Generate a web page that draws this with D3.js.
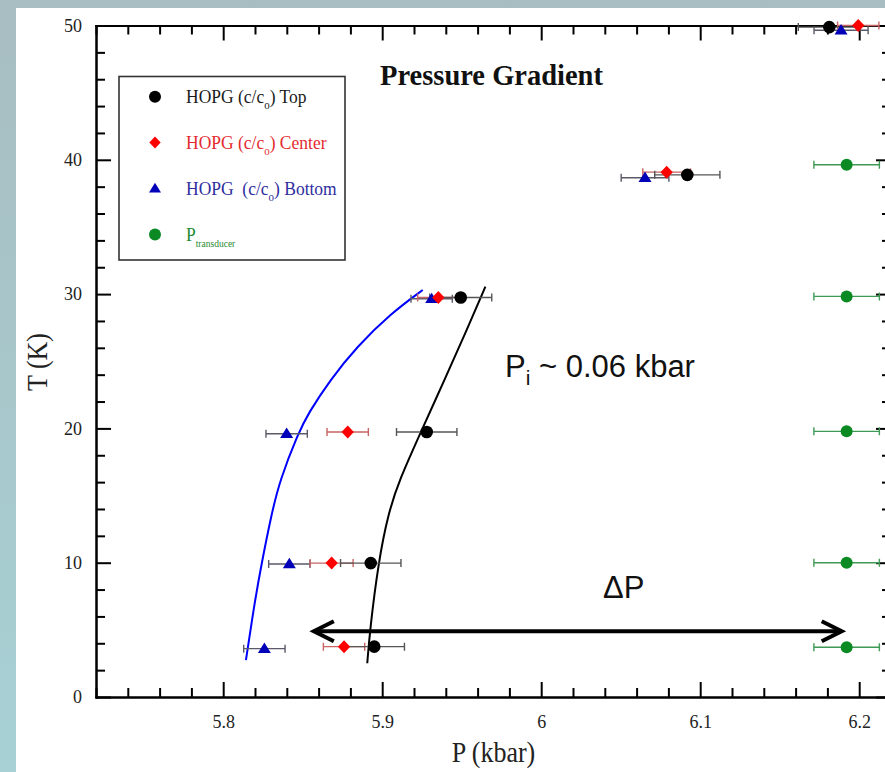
<!DOCTYPE html>
<html>
<head>
<meta charset="utf-8">
<script src="https://cdn.jsdelivr.net/npm/d3@7"></script>
<style>
  html, body { margin: 0; padding: 0; overflow: hidden; background: #fff; }
  svg { display: block; }
</style>
</head>
<body>
<svg id="chart" width="885" height="772"></svg>
<script>
// HOPG lattice-gauge pressures (kbar) versus temperature (K), with error half-widths
const topT   = [3.75, 9.97, 19.73, 29.75, 38.88, 49.88];
const topP   = [5.8950, 5.8928, 5.9280, 5.9494, 6.0919, 6.1812];
const topErr = [0.019, 0.019, 0.019, 0.0195, 0.0205, 0.0195];

const centerT   = [3.75, 9.97, 19.73, 29.75, 39.08, 50.0];
const centerP   = [5.8760, 5.8682, 5.8783, 5.9353, 6.0789, 6.1994];
const centerErr = [0.013, 0.0135, 0.013, 0.013, 0.015, 0.013];

const bottomT   = [3.6, 9.9, 19.6, 29.65, 38.66, 49.65];
const bottomP   = [5.8259, 5.8416, 5.8399, 5.9311, 6.0653, 6.1886];
const bottomErr = [0.013, 0.013, 0.013, 0.013, 0.015, 0.017];

// Transducer reading
const transducerT   = [3.7, 10.0, 19.78, 29.83, 39.63];
const transducerP   = [6.1921, 6.1921, 6.1921, 6.1921, 6.1921];
const transducerErr = [0.0206, 0.0206, 0.0206, 0.0206, 0.0206];

// Guide curves through the bottom and top gauges
const blueCurveP  = [5.8143, 5.8200, 5.8242, 5.8305, 5.8357, 5.8472, 5.8535, 5.8672, 5.8840, 5.9055, 5.9255];
const blueCurveT  = [2.75, 7.22, 9.96, 13.68, 16.16, 19.64, 21.12, 23.60, 26.08, 28.57, 30.31];
const blackCurveP = [5.8906, 5.8923, 5.8975, 5.9038, 5.9108, 5.9240, 5.9391, 5.9532, 5.9649];
const blackCurveT = [2.51, 4.99, 9.96, 13.68, 16.16, 19.64, 23.60, 27.32, 30.55];

// Pressure-difference arrow (kbar span, at a temperature in K)
const arrowP = [5.857, 6.189];
const arrowT = 4.9;

// Axis ticks
const xMajor = [5.8, 5.9, 6.0, 6.1, 6.2];
const xTickLabels = ["5.8", "5.9", "6", "6.1", "6.2"];
const yMajor = [0, 10, 20, 30, 40, 50];
const yTickLabels = ["0", "10", "20", "30", "40", "50"];

const svg = d3.select("#chart");
const W = 885, H = 772;
const SERIF = "'Liberation Serif', 'Times New Roman', serif";
const SANS = "'Liberation Sans', Arial, sans-serif";

// Slide background
const defs = svg.append("defs");
const grad = defs.append("linearGradient").attr("id", "bg")
  .attr("x1", 0).attr("y1", 0).attr("x2", 0).attr("y2", 1);
grad.append("stop").attr("offset", "0%").attr("stop-color", "#a8bdc1");
grad.append("stop").attr("offset", "100%").attr("stop-color", "#a7d1d5");
svg.append("rect").attr("width", W).attr("height", H).attr("fill", "url(#bg)");
svg.append("rect").attr("x", 16).attr("y", 8).attr("width", W - 16).attr("height", H - 8).attr("fill", "#fff");

const x = d3.scaleLinear().domain([5.72, 6.22]).range([96, 891]);
const y = d3.scaleLinear().domain([0, 50]).range([697, 25.5]);

const xMinor = d3.range(5.72, 6.2201, 0.02).filter(v => !xMajor.some(m => Math.abs(m - v) < 1e-6));
const yMinor = d3.range(0, 50.01, 2).filter(v => v % 10 !== 0);

function styleAxis(g) {
  g.select(".domain").attr("stroke", "#000").attr("stroke-width", 2).attr("stroke-linecap", "square");
  g.selectAll(".tick line").attr("stroke", "#000").attr("stroke-width", 2);
  g.selectAll(".tick text").attr("fill", "#222").style("font-family", SERIF).style("font-size", "18px");
  g.attr("font-family", null).attr("font-size", null);
}

function addAxis(gen, tx, ty) {
  const g = svg.append("g").attr("transform", `translate(${tx},${ty})`).call(gen);
  styleAxis(g);
  return g;
}

// bottom
addAxis(d3.axisBottom(x).tickValues(xMinor).tickSizeInner(-9).tickSizeOuter(0).tickFormat(""), 0, 697);
addAxis(d3.axisBottom(x).tickValues(xMajor).tickSizeInner(-15).tickSizeOuter(0).tickPadding(18)
  .tickFormat((d, i) => xTickLabels[i]), 0, 697);
// top
addAxis(d3.axisTop(x).tickValues(xMinor).tickSizeInner(-9).tickSizeOuter(0).tickFormat(""), 0, 25.5);
addAxis(d3.axisTop(x).tickValues(xMajor).tickSizeInner(-15).tickSizeOuter(0).tickFormat(""), 0, 25.5);
// left
addAxis(d3.axisLeft(y).tickValues(yMinor).tickSizeInner(-9).tickSizeOuter(0).tickFormat(""), 96, 0);
addAxis(d3.axisLeft(y).tickValues(yMajor).tickSizeInner(-15).tickSizeOuter(0).tickPadding(14)
  .tickFormat((d, i) => yTickLabels[i]), 96, 0);
// right
addAxis(d3.axisRight(y).tickValues(yMinor).tickSizeInner(-9).tickSizeOuter(0).tickFormat(""), 891, 0);
addAxis(d3.axisRight(y).tickValues(yMajor).tickSizeInner(-15).tickSizeOuter(0).tickFormat(""), 891, 0);

// Axis titles (slightly tall serif lettering)
svg.append("text").attr("transform", "translate(493.5,762) scale(1,1.12)").attr("text-anchor", "middle")
  .style("font-family", SERIF).style("font-size", "26px").attr("fill", "#222").text("P (kbar)");
svg.append("text").attr("transform", "translate(46.5,362) rotate(-90) scale(1,1.12)").attr("text-anchor", "middle")
  .style("font-family", SERIF).style("font-size", "26px").attr("fill", "#222").text("T (K)");

// Title
svg.append("text").attr("x", 380).attr("y", 85)
  .style("font-family", SERIF).style("font-size", "28.5px").style("font-weight", "bold")
  .attr("fill", "#111").text("Pressure Gradient");

// Guide curves, smoothed through the read-off points
const guide = d3.line().x(d => x(d[0])).y(d => y(d[1])).curve(d3.curveBasis);
svg.append("path").datum(blueCurveP.map((p, i) => [p, blueCurveT[i]]))
  .attr("d", guide).attr("fill", "none").attr("stroke", "#0000ff").attr("stroke-width", 2);
svg.append("path").datum(blackCurveP.map((p, i) => [p, blackCurveT[i]]))
  .attr("d", guide).attr("fill", "none").attr("stroke", "#000").attr("stroke-width", 2);

// Marker shapes
const symbols = {
  circle: r => d3.symbol().type(d3.symbolCircle).size(Math.PI * r * r)(),
  diamond: r => `M0,${-r}L${r * 0.95},0L0,${r}L${-r * 0.95},0Z`,
  triangle: r => `M0,${-r * 0.95}L${r},${r * 0.65}L${-r},${r * 0.65}Z`
};

const series = [
  { T: transducerT, P: transducerP, err: transducerErr, shape: "circle", r: 6, fill: "#0b8a24", bar: "#3f9a55" },
  { T: bottomT, P: bottomP, err: bottomErr, shape: "triangle", r: 6.5, fill: "#0000b8", bar: "#5a5a6a" },
  { T: centerT, P: centerP, err: centerErr, shape: "diamond", r: 6.5, fill: "#ff0000", bar: "#c86464" },
  { T: topT, P: topP, err: topErr, shape: "circle", r: 6.3, fill: "#000", bar: "#555" }
];

// Error bars first, then markers
series.forEach(s => {
  const pts = s.T.map((t, i) => ({ t, p: s.P[i], e: s.err[i] }));
  const g = svg.append("g");
  g.selectAll("path.bar").data(pts).join("path")
    .attr("d", d => {
      const x0 = x(d.p - d.e), x1 = x(d.p + d.e), yy = y(d.t);
      return `M${x0},${yy}H${x1}M${x0},${yy - 4}V${yy + 4}M${x1},${yy - 4}V${yy + 4}`;
    })
    .attr("fill", "none").attr("stroke", s.bar).attr("stroke-width", 1.4);
});
series.forEach(s => {
  const pts = s.T.map((t, i) => ({ t, p: s.P[i] }));
  svg.append("g").selectAll("path").data(pts).join("path")
    .attr("transform", d => `translate(${x(d.p)},${y(d.t)})`)
    .attr("d", symbols[s.shape](s.r)).attr("fill", s.fill);
});

// Double-headed arrow for the pressure difference
const ay = y(arrowT), ax0 = x(arrowP[0]), ax1 = x(arrowP[1]);
const arrowG = svg.append("g").attr("fill", "none").attr("stroke", "#000")
  .attr("stroke-width", 4).attr("stroke-linejoin", "miter");
arrowG.append("path").attr("d", `M${ax0 + 2},${ay}H${ax1 - 2}`);
arrowG.append("path").attr("d", `M${ax0 + 20},${ay - 10}L${ax0},${ay}L${ax0 + 20},${ay + 10}`);
arrowG.append("path").attr("d", `M${ax1 - 20},${ay - 10}L${ax1},${ay}L${ax1 - 20},${ay + 10}`);

// Annotations
const pi = svg.append("text").attr("x", 505).attr("y", 377)
  .style("font-family", SANS).style("font-size", "31px").attr("fill", "#111");
pi.append("tspan").text("P");
pi.append("tspan").attr("dy", 8).style("font-size", "21px").text("i");
pi.append("tspan").attr("dy", -8).text(" ~ 0.06 kbar");

svg.append("text").attr("x", 603).attr("y", 598)
  .style("font-family", SANS).style("font-size", "31px").attr("fill", "#111").text("ΔP");

// Legend
const legend = svg.append("g");
legend.append("rect").attr("x", 119).attr("y", 76.5).attr("width", 226).attr("height", 183.5)
  .attr("fill", "#fff").attr("stroke", "#333").attr("stroke-width", 1.6);

const legendRows = [
  { shape: "circle", r: 6, fill: "#000", color: "#1a1a1a", main: "HOPG (c/c", sub: "o", rest: ") Top" },
  { shape: "diamond", r: 6, fill: "#ff0000", color: "#e42a2f", main: "HOPG (c/c", sub: "o", rest: ") Center" },
  { shape: "triangle", r: 6, fill: "#0000b8", color: "#2e2e9e", main: "HOPG  (c/c", sub: "o", rest: ") Bottom" },
  { shape: "circle", r: 6, fill: "#0b8a24", color: "#1f8a30", main: "P", sub: "transducer", rest: "" }
];
const rowY = [102.7, 148.5, 194.5, 240.5];
legendRows.forEach((row, i) => {
  const yy = rowY[i];
  legend.append("path").attr("transform", `translate(155,${yy - 6})`)
    .attr("d", symbols[row.shape](row.r)).attr("fill", row.fill);
  const t = legend.append("text").attr("transform", `translate(186,${yy}) scale(1,1.12)`)
    .style("font-family", SERIF).style("font-size", "17.5px").style("white-space", "pre")
    .attr("fill", row.color);
  t.append("tspan").text(row.main);
  const last = row.rest === "";
  t.append("tspan").attr("dy", last ? 6 : 5.5).style("font-size", last ? "9.5px" : "11px").text(row.sub);
  if (!last) t.append("tspan").attr("dy", -5.5).text(row.rest);
});
</script>
</body>
</html>
